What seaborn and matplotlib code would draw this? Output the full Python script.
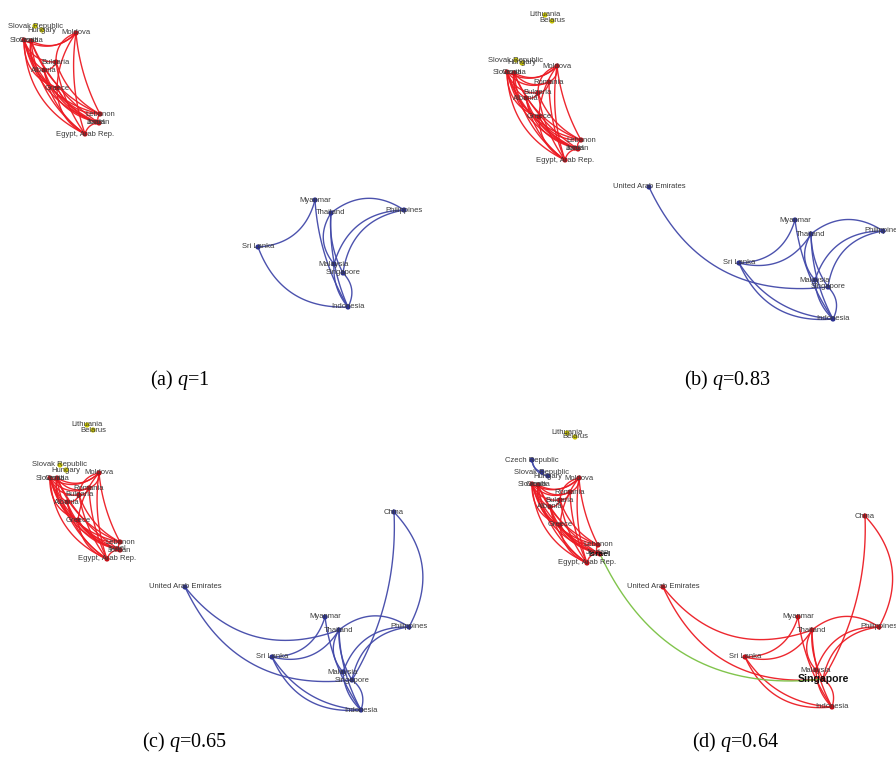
"""
Four trade-community snapshots (q = 1, 0.83, 0.65, 0.64) drawn as Gephi-style
curved-edge network panels.
"""
import matplotlib
matplotlib.use("Agg")
import matplotlib.pyplot as plt
import numpy as np
import pandas as pd
import seaborn as sns

# node layouts, in pixels inside each panel (y grows downward)
POS_A = {
    "Slovak Republic": (35, 26), "Hungary": (42, 30),
    "Slovenia": (24, 40), "Croatia": (31, 41),
    "Moldova": (76, 33), "Bulgaria": (56, 62), "Albania": (44, 70), "Greece": (57, 88),
    "Lebanon": (100, 114), "Jordan": (99, 123), "Israel": (96, 122), "Egypt, Arab Rep.": (85, 134),
    "Myanmar": (315, 200), "Thailand": (331, 213), "Philippines": (404, 210), "Sri Lanka": (258, 247),
    "Malaysia": (334, 264), "Singapore": (343, 273), "Indonesia": (348, 307),
}
POS_B = {
    "Lithuania": (97, 15), "Belarus": (104, 21),
    "Slovak Republic": (68, 60), "Hungary": (74, 63),
    "Slovenia": (59, 72), "Croatia": (66, 73),
    "Moldova": (109, 66), "Romania": (101, 82), "Bulgaria": (90, 93), "Albania": (78, 98),
    "Greece": (91, 117), "Lebanon": (133, 140), "Jordan": (130, 149), "Israel": (127, 148),
    "Egypt, Arab Rep.": (117, 160),
    "United Arab Emirates": (201, 187), "Myanmar": (347, 220), "Thailand": (363, 234),
    "Philippines": (435, 231), "Sri Lanka": (291, 263), "Malaysia": (367, 280),
    "Singapore": (380, 287), "Indonesia": (385, 319),
}
POS_C = {
    "Lithuania": (87, 38), "Belarus": (93, 43),
    "Slovak Republic": (60, 78), "Hungary": (66, 83),
    "Slovenia": (50, 91), "Croatia": (57, 91),
    "Moldova": (99, 86), "Romania": (89, 101), "Bulgaria": (79, 108), "Albania": (67, 115),
    "Greece": (78, 133), "Lebanon": (120, 155), "Jordan": (120, 163), "Israel": (117, 162),
    "Egypt, Arab Rep.": (107, 172),
    "China": (394, 125), "United Arab Emirates": (185, 200), "Myanmar": (325, 230),
    "Thailand": (339, 243), "Philippines": (409, 240), "Sri Lanka": (272, 270),
    "Malaysia": (343, 285), "Singapore": (352, 293), "Indonesia": (361, 323),
}
POS_D = {
    "Lithuania": (119, 46), "Belarus": (127, 50),
    "Czech Republic": (84, 73), "Slovak Republic": (94, 85), "Hungary": (100, 89),
    "Slovenia": (84, 97), "Croatia": (90, 98),
    "Moldova": (131, 91), "Romania": (122, 105), "Bulgaria": (112, 113), "Albania": (102, 120),
    "Greece": (112, 138), "Lebanon": (150, 158), "Jordan": (150, 166), "Israel": (152, 167),
    "Egypt, Arab Rep.": (139, 176),
    "United Arab Emirates": (215, 200), "China": (417, 129), "Myanmar": (350, 230),
    "Thailand": (364, 243), "Philippines": (431, 240), "Sri Lanka": (297, 270),
    "Malaysia": (368, 283), "Singapore": (375, 292), "Indonesia": (384, 320),
}

EU_NODES = ["Slovenia", "Croatia", "Moldova", "Romania", "Bulgaria", "Albania", "Greece",
            "Lebanon", "Jordan", "Israel", "Egypt, Arab Rep."]
ASIA_NODES = ["United Arab Emirates", "China", "Myanmar", "Thailand", "Philippines",
              "Sri Lanka", "Malaysia", "Singapore", "Indonesia"]
SMALL_NODES = ["Slovak Republic", "Hungary", "Lithuania", "Belarus", "Czech Republic"]

# edges are (source, target[, bend]); arcs bend clockwise from source to target
EU_EDGES = [
    ("Slovenia", "Moldova"), ("Croatia", "Moldova"), ("Slovenia", "Croatia"),
    ("Slovenia", "Bulgaria"), ("Croatia", "Albania"), ("Slovenia", "Greece"), ("Croatia", "Greece"),
    ("Slovenia", "Lebanon", 0.3), ("Slovenia", "Jordan", 0.28), ("Slovenia", "Egypt, Arab Rep.", 0.3),
    ("Slovenia", "Israel", 0.2), ("Croatia", "Lebanon", 0.22), ("Croatia", "Egypt, Arab Rep.", 0.22),
    ("Croatia", "Jordan", 0.15), ("Moldova", "Bulgaria"), ("Moldova", "Greece", 0.15),
    ("Moldova", "Egypt, Arab Rep.", 0.12), ("Moldova", "Lebanon", 0.1),
    ("Bulgaria", "Egypt, Arab Rep.", 0.12), ("Bulgaria", "Lebanon", 0.2),
    ("Albania", "Egypt, Arab Rep.", 0.2), ("Albania", "Jordan", 0.25), ("Greece", "Lebanon", 0.3),
    ("Greece", "Egypt, Arab Rep.", 0.3), ("Albania", "Bulgaria"), ("Lebanon", "Jordan"),
    ("Jordan", "Egypt, Arab Rep."), ("Albania", "Israel", 0.3), ("Greece", "Jordan", 0.2),
]
ROMANIA_EDGES = [
    ("Romania", "Moldova"), ("Slovenia", "Romania"), ("Romania", "Egypt, Arab Rep.", 0.1),
    ("Bulgaria", "Romania"), ("Croatia", "Romania"),
]
ASIA_EDGES = [
    ("Sri Lanka", "Myanmar"), ("Sri Lanka", "Indonesia"), ("Myanmar", "Indonesia", 0.12),
    ("Philippines", "Thailand"), ("Philippines", "Malaysia"), ("Philippines", "Singapore"),
    ("Thailand", "Indonesia", 0.12), ("Thailand", "Singapore", 0.15), ("Thailand", "Malaysia"),
    ("Indonesia", "Singapore"), ("Malaysia", "Indonesia", 0.2),
]
EXTRA_B = [("Sri Lanka", "Thailand"), ("United Arab Emirates", "Singapore"),
           ("Sri Lanka", "Indonesia", 0.25)]
EXTRA_C = EXTRA_B + [("United Arab Emirates", "Thailand"), ("Singapore", "China", 0.15),
                     ("Philippines", "China")]
CZECH_EDGES = [("Czech Republic", "Hungary"), ("Czech Republic", "Slovak Republic")]
GREEN_EDGES = [("Israel", "Singapore")]

CAPTIONS = [r"(a) $q$=1", r"(b) $q$=0.83", r"(c) $q$=0.65", r"(d) $q$=0.64"]

EDGE_COLORS = {"red": "#ec1c24", "blue": "#4249a9", "yellow": "#cdc800", "green": "#7ac143"}
NODE_COLORS = {"red": "#c40e16", "blue": "#2b3192", "yellow": "#c9c400"}

sns.set_theme(style="white")
plt.rcParams["mathtext.fontset"] = "custom"
plt.rcParams["mathtext.rm"] = "Liberation Serif"
plt.rcParams["mathtext.it"] = "Liberation Serif:italic"


def community(name, panel):
    if panel == "d":
        if name in ("Czech Republic", "Slovak Republic", "Hungary"):
            return "blue"
        if name in ("Lithuania", "Belarus"):
            return "yellow"
        return "red"
    if name in SMALL_NODES:
        return "yellow"
    return "red" if name in EU_NODES else "blue"


def arc(p, q, rad=0.36, n=40):
    p, q = np.asarray(p, float), np.asarray(q, float)
    d = q - p
    ctrl = (p + q) / 2 + rad * np.array([-d[1], d[0]])
    t = np.linspace(0, 1, n)[:, None]
    pts = (1 - t) ** 2 * p + 2 * (1 - t) * t * ctrl + t ** 2 * q
    return pts[:, 0], pts[:, 1]


def draw_panel(ax, pos, edges, panel, caption, bold=()):
    for edge in edges:
        s, t = edge[0], edge[1]
        rad = edge[2] if len(edge) > 2 else 0.36
        if s not in pos or t not in pos:
            continue
        if (s, t) in GREEN_EDGES and panel == "d":
            color = EDGE_COLORS["green"]
        else:
            color = EDGE_COLORS[community(s, panel)]
        x, y = arc(pos[s], pos[t], rad)
        ax.plot(x, y, color=color, lw=1.0, alpha=0.95, zorder=1)

    nodes = pd.DataFrame([(k, v[0], v[1], community(k, panel)) for k, v in pos.items()],
                         columns=["name", "x", "y", "group"])
    sns.scatterplot(data=nodes, x="x", y="y", hue="group", palette=NODE_COLORS,
                    s=14, edgecolor="none", legend=False, ax=ax, zorder=2)
    for _, row in nodes.iterrows():
        big = row["name"] in bold
        ax.text(row["x"], row["y"], row["name"], ha="center", va="center",
                fontsize=(7.6 if row["name"] == "Singapore" else 6.0) if big else 5.5,
                fontweight="bold" if big else "normal",
                color="#111111" if big else "#3a3a3a", family="Liberation Sans", zorder=3)

    ax.text(caption[0], caption[1], caption[2], ha="center", va="center", fontsize=14.5,
            family="Liberation Serif", color="black")
    ax.set_xlim(0, 448)
    ax.set_ylim(387, 0)
    ax.axis("off")


fig = plt.figure(figsize=(8.96, 7.74), dpi=100)
ax_a = fig.add_axes([0, 0.5, 0.5, 0.5])
ax_b = fig.add_axes([0.5, 0.5, 0.5, 0.5])
ax_c = fig.add_axes([0, 0, 0.5, 0.5])
ax_d = fig.add_axes([0.5, 0, 0.5, 0.5])

draw_panel(ax_a, POS_A, EU_EDGES + ASIA_EDGES, "a", (180, 380, CAPTIONS[0]))
draw_panel(ax_b, POS_B, EU_EDGES + ROMANIA_EDGES + ASIA_EDGES + EXTRA_B, "b",
           (279, 380, CAPTIONS[1]))
draw_panel(ax_c, POS_C, EU_EDGES + ROMANIA_EDGES + ASIA_EDGES + EXTRA_C, "c",
           (185, 355, CAPTIONS[2]))
draw_panel(ax_d, POS_D, EU_EDGES + ROMANIA_EDGES + ASIA_EDGES + EXTRA_C + CZECH_EDGES + GREEN_EDGES,
           "d", (287, 355, CAPTIONS[3]), bold=("Israel", "Singapore"))

fig.savefig("out.png", dpi=100)
plt.close(fig)
